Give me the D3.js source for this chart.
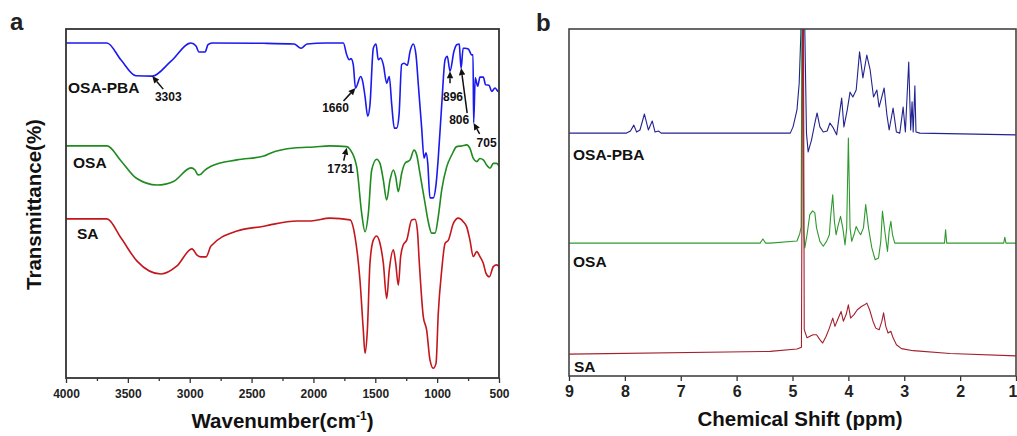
<!DOCTYPE html>
<html>
<head>
<meta charset="utf-8">
<script src="https://cdn.jsdelivr.net/npm/d3@7"></script>
<style>
  body { margin: 0; background: #fff; }
  svg { display: block; font-family: "Liberation Sans", Arial, sans-serif; font-weight: bold; }
</style>
</head>
<body>
<div id="chart"></div>
<script>
// ---------- data: panel a (FTIR, [wavenumber, transmittance]) ----------
var ftirMajorTicks = [4000, 3500, 3000, 2500, 2000, 1500, 1000, 500];
var ftirMinorTicks = [3750, 3250, 2750, 2250, 1750, 1250, 750];

var ftirOsaPba = [[4000,96.0],[3669,96.0],[3555,91.1],[3434,86.6],[3303,86.5],[3151,90.8],[2990,96.0],[2949,95.1],[2925,93.4],[2876,93.4],[2852,95.5],[2820,96.0],[2400,95.9],[2157,95.7],[2100,94.5],[2052,95.7],[1900,96.0],[1758,96.0],[1731,92.6],[1710,91.2],[1696,91.5],[1678,89.8],[1660,83.1],[1618,86.4],[1602,85.0],[1583,80.7],[1561,75.0],[1543,78.3],[1516,94.5],[1494,95.7],[1476,91.2],[1456,91.7],[1435,89.8],[1408,84.5],[1387,86.4],[1367,78.3],[1346,71.6],[1327,71.6],[1308,75.4],[1287,89.8],[1268,90.2],[1241,89.6],[1219,93.6],[1193,95.7],[1171,92.6],[1152,84.0],[1125,71.6],[1106,63.0],[1090,64.5],[1076,61.6],[1058,51.6],[1031,51.6],[1009,55.4],[991,63.0],[963,78.3],[936,91.2],[918,92.2],[896,87.9],[864,93.6],[842,95.5],[821,95.7],[815,92.6],[806,88.8],[790,94.5],[775,94.5],[748,94.3],[721,92.6],[710,92.6],[705,73.1],[692,86.0],[672,83.6],[654,86.2],[627,86.2],[608,84.0],[581,83.9],[559,82.1],[532,83.1],[506,82.1],[500,82.1]];

var ftirOsa = [[4000,66.5],[3669,66.5],[3555,62.2],[3434,57.3],[3264,55.3],[3127,56.4],[2990,60.2],[2957,59.6],[2933,58.2],[2909,58.4],[2885,59.3],[2828,60.7],[2618,62.5],[2400,63.6],[2343,64.5],[2157,65.9],[1995,66.2],[1866,66.5],[1731,66.3],[1704,65.5],[1650,60.5],[1610,47.2],[1583,41.9],[1556,47.2],[1529,59.6],[1489,62.7],[1462,61.5],[1435,56.7],[1408,51.0],[1381,56.7],[1354,59.6],[1335,57.7],[1314,53.4],[1287,58.6],[1260,61.5],[1219,62.5],[1187,65.3],[1165,63.9],[1139,58.6],[1098,50.1],[1072,44.8],[1044,41.5],[1017,41.5],[991,46.2],[963,53.9],[923,60.5],[882,63.9],[842,66.3],[801,66.5],[761,66.8],[735,65.8],[708,62.9],[680,62.0],[654,62.9],[627,62.5],[600,61.0],[573,60.1],[546,61.5],[519,61.5],[500,60.7]];

var ftirSa = [[4000,45.6],[3669,45.6],[3555,40.1],[3426,33.5],[3232,29.8],[3103,32.1],[2982,37.0],[2941,35.2],[2909,34.7],[2868,34.7],[2828,37.8],[2618,42.1],[2400,43.5],[2359,43.8],[2133,45.0],[2020,45.0],[1866,45.8],[1704,45.3],[1664,40.5],[1624,28.1],[1597,13.8],[1583,7.1],[1564,13.8],[1543,32.9],[1516,39.5],[1489,40.7],[1462,38.6],[1435,32.9],[1408,22.8],[1387,30.9],[1354,36.7],[1335,32.9],[1314,26.6],[1295,34.8],[1274,38.1],[1246,39.5],[1206,45.3],[1179,45.5],[1160,42.4],[1144,32.9],[1112,17.6],[1085,13.8],[1058,5.2],[1031,2.8],[1009,4.2],[991,18.5],[963,30.9],[936,38.6],[909,39.5],[869,44.3],[829,45.8],[789,44.8],[761,43.3],[735,39.5],[708,34.8],[680,36.2],[654,34.8],[627,32.9],[605,30.0],[578,29.0],[546,31.9],[519,32.4],[500,31.9]];

var ftirNames = ["OSA-PBA", "OSA", "SA"];

// peak annotations: label, wavenumber, transmittance at the arrow tip
var peakLabels = ["3303", "1660", "1731", "896", "806", "705"];
var peakWn = [3303, 1660, 1731, 896, 806, 705];
var peakT = [86.5, 83.1, 66.0, 87.9, 88.8, 73.1];

// ---------- data: panel b (1H NMR, [ppm, intensity]) ----------
var nmrTicks = [9, 8, 7, 6, 5, 4, 3, 2, 1];

var nmrOsaPba = [[9.0,70.0],[7.97,70.0],[7.90,70.6],[7.84,72.3],[7.79,70.3],[7.73,70.9],[7.65,75.5],[7.58,70.9],[7.51,73.5],[7.46,70.3],[7.40,70.6],[7.35,70.0],[5.58,70.0],[5.04,70.0],[4.99,71.8],[4.92,76.7],[4.88,84.4],[4.85,98.8],[4.82,140],[4.78,100],[4.75,70.0],[4.72,64.6],[4.66,68.0],[4.60,72.9],[4.56,75.8],[4.51,71.8],[4.45,70.3],[4.38,70.6],[4.33,72.9],[4.27,71.5],[4.21,69.5],[4.15,76.7],[4.12,80.1],[4.08,71.8],[4.02,76.7],[3.97,81.8],[3.92,80.4],[3.86,82.4],[3.80,93.4],[3.74,85.9],[3.67,92.5],[3.61,88.2],[3.55,80.4],[3.49,82.4],[3.45,77.5],[3.36,83.0],[3.31,75.2],[3.27,70.9],[3.20,77.2],[3.14,70.3],[3.08,70.0],[3.02,77.5],[2.98,70.3],[2.92,90.5],[2.885,70.9],[2.86,79.0],[2.84,70.3],[2.81,83.6],[2.79,70.3],[2.72,70.0],[1.0,69.5]];

var nmrOsa = [[9.0,38.3],[5.58,38.3],[5.53,39.5],[5.48,38.3],[5.40,38.3],[4.92,38.9],[4.87,41.0],[4.845,43.0],[4.825,140],[4.80,42.0],[4.78,36.9],[4.74,40.7],[4.69,46.5],[4.64,47.6],[4.60,47.0],[4.57,42.7],[4.51,38.8],[4.45,37.4],[4.39,38.8],[4.34,40.7],[4.32,45.5],[4.28,52.2],[4.25,44.6],[4.22,40.7],[4.18,43.6],[4.14,46.0],[4.10,42.7],[4.06,37.8],[4.03,42.7],[4.00,68.6],[3.97,42.7],[3.94,38.8],[3.90,40.7],[3.86,43.1],[3.82,41.7],[3.78,40.7],[3.73,42.7],[3.69,49.4],[3.64,42.7],[3.58,36.9],[3.52,33.5],[3.46,34.0],[3.42,38.8],[3.39,47.5],[3.34,40.7],[3.30,35.9],[3.27,41.7],[3.24,44.6],[3.21,40.7],[3.17,38.3],[2.28,38.3],[2.26,42.1],[2.24,38.3],[1.22,38.3],[1.20,40.0],[1.18,38.3],[1.0,38.3]];

var nmrSa = [[9.0,6.3],[5.40,7.1],[4.92,7.8],[4.84,8.3],[4.81,140],[4.79,13.5],[4.78,12.9],[4.74,11.0],[4.68,11.5],[4.63,11.9],[4.57,11.9],[4.51,10.5],[4.46,9.5],[4.40,11.4],[4.34,13.8],[4.28,16.7],[4.24,14.3],[4.18,16.7],[4.13,18.6],[4.09,15.8],[4.04,17.7],[4.00,20.5],[3.96,16.7],[3.90,17.7],[3.84,19.1],[3.76,20.1],[3.71,20.5],[3.67,21.0],[3.62,19.1],[3.56,15.8],[3.51,13.8],[3.45,13.3],[3.40,15.8],[3.37,18.2],[3.33,14.3],[3.29,12.4],[3.24,12.9],[3.20,11.0],[3.14,9.0],[3.05,7.9],[2.84,7.3],[2.18,6.5],[1.0,5.8]];

var nmrNames = ["OSA-PBA", "OSA", "SA"];

// ---------- layout ----------
var svg = d3.select("#chart").append("svg")
    .attr("width", 1017)
    .attr("height", 436);

var frameA = {left: 66, right: 499, top: 29, bottom: 378};
var frameB = {left: 569, right: 1016, top: 29, bottom: 376};

// Panel a scales
var xA = d3.scaleLinear().domain([4000, 500]).range([frameA.left, frameA.right]);
var yA = d3.scaleLinear().domain([0, 100]).range([frameA.bottom, frameA.top]);

// Panel b scales
var xB = d3.scaleLinear().domain([9, 1]).range([frameB.left, frameB.right]);
var yB = d3.scaleLinear().domain([0, 100]).range([frameB.bottom, frameB.top]);

function styleAxis(g) {
    g.select(".domain").remove();
    g.selectAll(".tick line").attr("stroke", "#333").attr("stroke-width", 1.3);
    g.selectAll(".tick text").attr("fill", "#222");
}

// ---------- panel a ----------
var gA = svg.append("g");

gA.append("g")
    .attr("transform", "translate(0," + frameA.bottom + ")")
    .call(d3.axisBottom(xA).tickValues(ftirMinorTicks).tickSize(3).tickFormat(""))
    .call(styleAxis);

gA.append("g")
    .attr("transform", "translate(0," + frameA.bottom + ")")
    .call(d3.axisBottom(xA).tickValues(ftirMajorTicks).tickSize(5).tickPadding(6).tickFormat(d3.format("d")))
    .call(styleAxis)
    .selectAll("text")
    .style("font-size", "12px")
    .style("font-family", "'Liberation Sans', Arial, sans-serif")
    .style("font-weight", "bold");

var lineA = d3.line()
    .x(function (d) { return xA(d[0]); })
    .y(function (d) { return yA(d[1]); })
    .curve(d3.curveMonotoneX);

var ftirSeries = [ftirOsaPba, ftirOsa, ftirSa];
var ftirColors = ["#1a1aee", "#1f8a1f", "#c4161c"];

gA.selectAll("path.ftir")
    .data(ftirSeries)
    .enter()
    .append("path")
    .attr("class", "ftir")
    .attr("d", lineA)
    .attr("fill", "none")
    .attr("stroke", function (d, i) { return ftirColors[i]; })
    .attr("stroke-width", 1.6)
    .attr("stroke-linejoin", "round");

// Series names
var ftirNamePos = [[68, 93], [73, 168], [77, 239]];
gA.selectAll("text.name")
    .data(ftirNames)
    .enter()
    .append("text")
    .attr("class", "name")
    .attr("x", function (d, i) { return ftirNamePos[i][0]; })
    .attr("y", function (d, i) { return ftirNamePos[i][1]; })
    .attr("font-size", 15.5)
    .attr("fill", "#111")
    .text(function (d) { return d; });

// Peak arrows (tail offset and label offset in px, relative to the tip)
var tailOff = [[11, 13], [-12, 13], [-3, 13], [0, 12], [6, 45], [6, 11]];
var textOff = [[16, 25], [-20, 24], [-6, 25], [3, 30], [-2, 56], [13, 24]];

function drawArrow(g, tx, ty, sx, sy) {
    var ang = Math.atan2(ty - sy, tx - sx);
    var len = 7, hw = 3.2;
    var bx = tx - len * Math.cos(ang), by = ty - len * Math.sin(ang);
    g.append("line")
        .attr("x1", sx).attr("y1", sy)
        .attr("x2", bx).attr("y2", by)
        .attr("stroke", "#111").attr("stroke-width", 1.5);
    var px = -Math.sin(ang) * hw, py = Math.cos(ang) * hw;
    g.append("path")
        .attr("d", "M" + tx + "," + ty + "L" + (bx + px) + "," + (by + py) + "L" + (bx - px) + "," + (by - py) + "Z")
        .attr("fill", "#111");
}

peakLabels.forEach(function (lab, i) {
    var tx = xA(peakWn[i]), ty = yA(peakT[i]);
    drawArrow(gA, tx, ty, tx + tailOff[i][0], ty + tailOff[i][1]);
    gA.append("text")
        .attr("x", tx + textOff[i][0])
        .attr("y", ty + textOff[i][1])
        .attr("text-anchor", "middle")
        .attr("font-size", 12)
        .attr("fill", "#111")
        .text(lab);
});

// Frame a
gA.append("rect")
    .attr("x", frameA.left).attr("y", frameA.top)
    .attr("width", frameA.right - frameA.left)
    .attr("height", frameA.bottom - frameA.top)
    .attr("fill", "none")
    .attr("stroke", "#333")
    .attr("stroke-width", 1.8);

// Axis titles a
var titleX = gA.append("text")
    .attr("x", (frameA.left + frameA.right) / 2)
    .attr("y", 428)
    .attr("text-anchor", "middle")
    .attr("font-size", 20.5)
    .attr("fill", "#111");
titleX.append("tspan").text("Wavenumber(cm");
titleX.append("tspan").attr("font-size", 12).attr("dy", -8).text("-1");
titleX.append("tspan").attr("dy", 8).text(")");

gA.append("text")
    .attr("transform", "translate(41," + ((frameA.top + frameA.bottom) / 2 + 1) + ") rotate(-90)")
    .attr("text-anchor", "middle")
    .attr("font-size", 20.5)
    .attr("fill", "#111")
    .text("Transmittance(%)");

gA.append("text")
    .attr("x", 10).attr("y", 30)
    .attr("font-size", 24)
    .attr("fill", "#222")
    .text("a");

// ---------- panel b ----------
var gB = svg.append("g");

svg.append("defs").append("clipPath")
    .attr("id", "clipB")
    .append("rect")
    .attr("x", frameB.left).attr("y", frameB.top)
    .attr("width", frameB.right - frameB.left)
    .attr("height", frameB.bottom - frameB.top);

gB.append("g")
    .attr("transform", "translate(0," + frameB.bottom + ")")
    .call(d3.axisBottom(xB).tickValues(nmrTicks).tickSize(5).tickPadding(5).tickFormat(d3.format("d")))
    .call(styleAxis)
    .selectAll("text")
    .style("font-size", "16px")
    .style("font-family", "'Liberation Sans', Arial, sans-serif")
    .style("font-weight", "bold")
    // keep the last label inside the window
    .filter(function (d) { return d === 1; })
    .attr("text-anchor", "end")
    .attr("x", 1);

var lineB = d3.line()
    .x(function (d) { return xB(d[0]); })
    .y(function (d) { return yB(d[1]); });

var nmrSeries = [nmrOsaPba, nmrOsa, nmrSa];
var nmrColors = ["#22238f", "#2e9a2e", "#a3202f"];

gB.append("g")
    .attr("clip-path", "url(#clipB)")
    .selectAll("path.nmr")
    .data(nmrSeries)
    .enter()
    .append("path")
    .attr("class", "nmr")
    .attr("d", lineB)
    .attr("fill", "none")
    .attr("stroke", function (d, i) { return nmrColors[i]; })
    .attr("stroke-width", 1.1)
    .attr("stroke-linejoin", "round");

var nmrNamePos = [[573, 160], [573, 267], [574, 372]];
gB.selectAll("text.name")
    .data(nmrNames)
    .enter()
    .append("text")
    .attr("class", "name")
    .attr("x", function (d, i) { return nmrNamePos[i][0]; })
    .attr("y", function (d, i) { return nmrNamePos[i][1]; })
    .attr("font-size", 15.5)
    .attr("fill", "#111")
    .text(function (d) { return d; });

gB.append("rect")
    .attr("x", frameB.left).attr("y", frameB.top)
    .attr("width", frameB.right - frameB.left)
    .attr("height", frameB.bottom - frameB.top)
    .attr("fill", "none")
    .attr("stroke", "#444")
    .attr("stroke-width", 1.6);

gB.append("text")
    .attr("x", 800)
    .attr("y", 426)
    .attr("text-anchor", "middle")
    .attr("font-size", 20.5)
    .attr("fill", "#111")
    .text("Chemical Shift (ppm)");

gB.append("text")
    .attr("x", 536).attr("y", 31)
    .attr("font-size", 24)
    .attr("fill", "#222")
    .text("b");
</script>
</body>
</html>
